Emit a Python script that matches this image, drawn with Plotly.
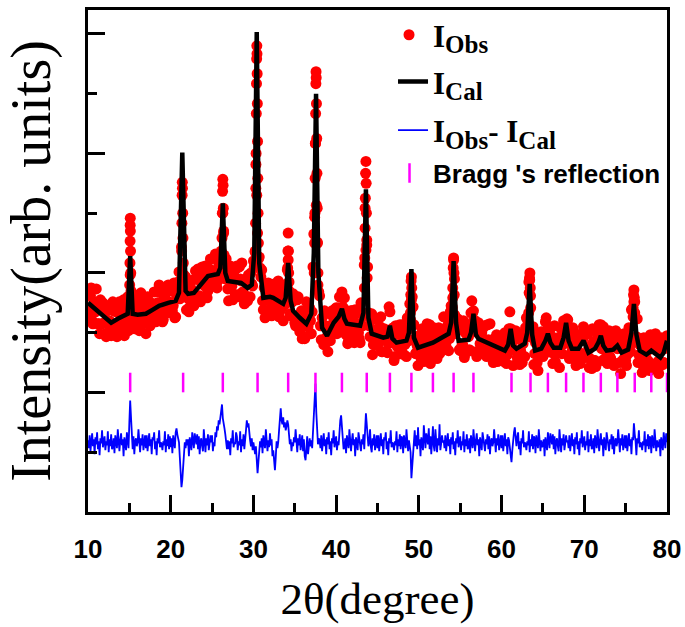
import numpy as np
import plotly.graph_objects as go

# ---------------- data ----------------
# y unit: arbitrary intensity, axis range 0..504, major ticks every 120

# observed intensity, background sampling at 10.0, 10.2, ... 80.0 deg (351 points)
obs_bg = [
    222,199,225,189,209, 224,189,179,206,210, 190,176,204,192,177, 211,183,201,177,211,
    193,210,177,203,216, 195,200,219,184,207, 201,182,220,192,209, 179,216,197,210,191,
    221,191,210,228,200, 191,215,222,200,211, 223,202,230,196,220, 241,223,220,238,236,
    215,201,231,221,207, 242,215,234,211,246, 229,247,215,242,254, 228,233,259,225,250,
    248,249,282,234,244, 212,247,227,238,218, 247,216,234,250,220, 210,232,238,216,229,
    252,261,318,254,245, 243,203,195,224,230, 211,197,227,215,200, 232,202,218,192,228,
    222,253,199,213,219, 190,193,216,181,202, 194,174,211,186,205, 179,246,296,308,228,
    217,173,188,202,170, 161,187,198,179,192, 205,186,216,186,206, 215,178,169,197,202,
    183,170,199,188,174, 210,187,248,263,246, 187,194,158,183,194, 167,171,196,161,184,
    179,160,206,177,184, 152,187,166,178,159, 188,158,176,195,172, 193,216,188,159,167,
    177,157,184,151,173, 189,157,149,178,185, 167,154,185,175,162, 196,168,186,162,201,
    207,253,179,185,189, 162,167,192,159,182, 176,162,212,189,192, 156,190,169,180,159,
    187,156,173,189,159, 150,172,178,155,165, 175,154,180,149,173, 201,166,147,173,178,
    160,148,179,169,156, 195,191,233,178,186, 159,176,142,169,181, 156,164,195,164,181,
    171,149,187,159,175, 145,184,168,190,176, 193,154,168,185,156, 147,170,178,158,173,
    182,156,179,145,167, 184,152,146,177,188, 172,152,177,164,149, 182,154,171,147,182,
    164,176,139,166,179, 152,158,185,161,204, 211,174,194,158,171, 140,175,154,167,148,
    178,147,164,179,149, 139,161,170,150,167, 177,
]

# observed intensity, background sampling at 10.1, 10.3, ... 79.9 deg (350 points)
obs_bg_mid = [
    203,217,192,211,201, 206,189,213,189,207, 179,202,188,208,181, 202,188,176,200,209,
    184,213,200,191,182, 238,187,203,211,193, 189,217,188,199,205, 193,210,187,209,201,
    208,194,221,199,220, 193,218,206,228,201, 222,207,195,218,231, 214,266,237,219,203,
    227,206,224,233,216, 214,244,217,230,237, 227,245,222,244,235, 242,227,254,232,255,
    237,300,247,254,224, 242,227,213,236,244, 218,246,232,221,209, 234,212,230,240,227,
    246,349,280,256,236, 212,225,202,223,214, 219,204,229,205,224, 196,219,206,228,209,
    243,231,197,211,215, 187,213,197,187,174, 198,176,195,206,192, 201,279,370,271,221,
    187,195,168,186,176, 183,172,202,182,204, 179,205,197,221,188, 203,185,172,194,202,
    176,203,189,180,170, 201,197,305,273,200, 176,199,168,178,183, 170,186,161,182,173,
    180,169,201,170,185, 156,179,167,188,162, 182,168,156,183,209, 213,206,174,160,147,
    173,153,171,180,163, 159,188,160,171,177, 166,182,159,181,173, 180,166,193,174,207,
    215,234,187,194,163, 183,168,155,179,187, 163,200,200,181,161, 183,160,177,184,165,
    161,188,158,168,173, 160,175,151,171,161, 167,151,178,158,184, 167,181,163,182,155,
    176,162,150,174,185, 176,231,217,175,148, 170,150,168,177,160, 158,191,168,176,176,
    160,175,151,172,163, 170,159,192,179,194, 157,175,161,182,155, 175,161,149,176,186,
    155,179,163,154,144, 171,152,172,185,171, 164,186,154,163,168, 156,173,150,172,165,
    169,150,175,153,174, 147,173,167,203,196, 211,176,150,168,174, 147,174,160,152,142,
    169,147,164,170,151, 146,175,148,164,175,
]

# observed points on the peak flanks
obs_pk_x = [
    15.04,15.07,15.09,15.10,15.11,15.12,15.14,15.17,15.20,
    21.28,21.32,21.35,21.38,21.40,21.42,21.45,21.48,21.52,21.56,
    26.10,26.15,26.20,26.24,26.27,26.30,26.33,26.36,26.40,26.45,
    30.22,30.26,30.29,30.32,30.35,30.37,30.39,30.41,30.43,30.45,30.47,30.50,30.53,30.56,30.60,30.65,
    34.10,34.14,34.17,34.20,34.23,34.26,34.30,
    37.35,37.40,37.43,37.46,37.49,37.52,37.55,37.57,37.59,37.62,37.65,37.68,37.71,37.75,37.80,
    43.42,43.46,43.50,43.53,43.56,43.60,43.63,43.66,43.70,43.75,
    48.98,49.02,49.06,49.10,49.14,49.18,
    54.05,54.10,54.15,54.20,54.24,54.28,54.33,
    56.50,56.60,56.68,
    61.10,
    63.28,63.33,63.38,63.42,63.47,63.52,
    65.60,
    67.75,67.80,
    72.00,
    75.90,75.95,76.00,76.05,76.10,
]
obs_pk_y = [
    228,250,272,288,295,282,262,240,222,
    240,262,290,318,331,325,300,275,250,232,
    262,255,275,300,322,334,328,305,280,258,
    262,290,325,360,400,430,455,468,460,440,410,372,335,300,270,245,
    228,245,262,280,262,240,222,
    240,270,300,335,370,400,430,442,436,410,375,340,305,270,240,
    225,255,285,315,340,352,330,300,268,235,
    200,218,232,236,225,205,
    205,225,245,255,240,218,198,
    190,202,192,
    184,
    200,220,235,240,225,205,
    184,
    185,193,
    188,
    205,218,223,215,200,
]

# calculated profile (vertices of the black curve)
cal_x = [
    10.0,10.8,11.6,12.8,13.6,14.2,14.8,15.1,15.4,16.0,17.0,17.8,18.6,19.7,20.6,21.0,21.4,21.8,22.1,22.8,
    23.5,24.5,25.7,26.0,26.3,26.6,26.9,28.0,28.5,29.3,29.8,30.1,30.4,30.7,31.2,32.0,32.4,33.0,33.6,33.9,
    34.2,34.5,34.8,35.6,36.4,37.0,37.3,37.57,37.85,38.3,38.9,39.7,40.3,40.7,41.0,41.3,42.9,43.3,43.6,43.9,
    44.3,45.7,46.2,46.5,46.8,47.3,48.5,48.8,49.1,49.4,49.9,51.7,53.6,53.9,54.2,54.5,54.8,56.0,56.3,56.6,
    56.9,57.2,60.4,60.8,61.1,61.4,61.8,62.8,63.1,63.4,63.7,64.05,64.8,65.3,65.6,65.9,66.3,67.1,67.5,67.8,
    68.1,68.5,69.3,69.9,70.5,71.3,71.7,72.0,72.3,72.7,73.5,74.0,74.5,75.3,75.7,76.0,76.3,76.7,77.5,78.1,
    78.5,79.2,79.6,80.0,
]
cal_y = [
    210,204,198,190,194,197,199,257,199,198,199,203,207,210,212,220,361,222,219,220,
    227,237,239,245,310,240,232,230,230,225,228,260,482,250,215,216,215,212,209,215,
    250,212,202,195,189,199,260,420,240,185,177,190,196,204,194,189,187,200,324,195,
    179,175,176,187,174,170,172,180,244,175,165,170,179,190,252,190,172,173,180,199,
    178,174,162,168,184,167,164,169,180,229,178,162,164,172,179,170,165,165,175,190,
    172,164,164,172,160,164,170,177,167,162,163,167,160,163,180,209,178,162,158,162,
    159,155,160,172,
]

# difference curve I_obs - I_cal (offset), sampling 10.0, 10.1, ... 80.0 deg (701 points)
diff_y = [
    72,64,77,61,70,79,66,73,58,75,
    68,80,63,71,57,74,69,82,65,70,
    76,62,71,67,81,60,73,66,78,63,
    65,74,59,77,70,64,83,68,61,72,
    79,67,73,56,75,69,62,80,71,64,
    90,112,95,74,63,76,58,71,74,66,
    70,83,65,60,74,67,78,62,69,77,
    64,77,61,70,79,66,73,58,75,72,
    80,63,71,57,74,69,82,65,70,68,
    62,71,67,81,60,73,66,78,63,76,
    65,74,59,77,70,64,80,84,78,72,
    70,55,38,25,32,48,62,70,64,73,
    67,73,56,75,69,62,80,71,64,79,
    73,68,78,63,76,58,71,74,66,61,
    83,65,60,74,67,78,62,69,77,70,
    77,61,70,66,80,75,86,82,92,88,
    96,102,108,94,90,84,78,70,63,72,
    63,71,57,74,69,82,65,70,68,80,
    76,62,71,67,81,60,73,66,78,63,
    70,82,92,85,89,78,72,66,74,62,
    70,64,58,66,52,39,50,63,71,65,
    74,59,77,70,64,83,68,61,72,65,
    79,67,73,56,62,48,42,55,71,64,
    70,82,96,104,92,88,95,85,90,82,
    86,92,88,76,68,73,61,70,66,75,
    70,83,65,60,74,67,78,62,69,77,
    61,73,56,52,63,76,58,71,74,66,
    72,64,78,90,110,129,100,82,68,74,
    72,64,77,61,70,79,66,73,58,75,
    68,80,63,71,57,74,69,82,65,70,
    76,62,71,67,84,92,97,85,78,63,
    65,74,59,77,70,64,83,68,61,72,
    79,67,73,56,75,69,62,80,71,64,
    61,73,68,78,63,82,99,88,74,66,
    70,83,65,60,74,67,78,62,69,77,
    64,77,61,70,79,66,73,58,75,72,
    80,63,71,57,74,69,82,65,70,68,
    62,71,67,81,60,73,66,78,63,76,
    74,59,77,70,64,83,68,61,72,65,
    60,34,45,58,70,82,66,77,63,85,
    67,73,56,75,69,62,87,71,64,79,
    73,68,84,63,76,58,71,86,66,61,
    83,65,60,74,67,88,62,69,77,70,
    72,64,77,61,70,79,66,73,58,75,
    68,80,63,71,57,74,69,82,65,70,
    76,62,71,67,81,60,73,66,78,63,
    65,74,59,77,70,64,83,68,61,72,
    79,67,73,56,75,69,62,80,71,64,
    61,73,68,78,63,76,58,71,74,66,
    70,83,65,60,74,67,78,62,69,77,
    64,77,61,70,79,66,73,58,75,72,
    66,58,50,62,74,80,85,72,66,75,
    80,63,71,57,74,69,82,65,70,68,
    62,71,67,81,60,73,66,78,63,76,
    74,59,77,70,64,83,68,61,72,65,
    67,73,56,75,69,62,80,71,64,79,
    73,68,78,63,76,58,71,74,66,61,
    83,65,60,74,67,78,62,69,77,70,
    72,64,77,61,70,79,66,73,58,75,
    68,80,63,71,57,74,69,82,65,70,
    76,62,71,67,81,60,73,66,78,63,
    65,74,59,77,70,64,83,68,61,72,
    79,67,73,56,75,69,62,80,71,64,
    61,73,68,78,63,76,58,71,74,66,
    70,83,65,60,74,67,78,62,69,77,
    64,77,61,70,79,66,73,58,75,72,
    89,78,71,57,74,69,82,65,70,68,
    62,71,67,81,60,73,66,78,63,76,
    74,59,77,70,64,83,68,61,72,65,
    67,73,56,75,69,62,80,71,64,79,
    70,
]

# Bragg reflection positions (deg) and the level of their tick row
bragg_x = [15.1, 21.5, 26.3, 30.5, 34.2, 37.5, 40.7, 43.7, 46.5, 49.1, 51.7, 54.2,
           56.6, 61.2, 63.5, 65.6, 67.8, 69.9, 72.0, 74.0, 76.1, 78.1, 80.0]
bragg_level = 130

x_ticks = [10, 20, 30, 40, 50, 60, 70, 80]

# ---------------- figure ----------------
obs_x = np.concatenate([np.linspace(10, 80, len(obs_bg)),
                        np.linspace(10.1, 79.9, len(obs_bg_mid)),
                        obs_pk_x])
obs_y = np.concatenate([obs_bg, obs_bg_mid, obs_pk_y])
diff_x = np.linspace(10, 80, len(diff_y))

SUB = "<sub><span style='font-size:25px'>{}</span></sub>"

fig = go.Figure()
fig.add_trace(go.Scatter(
    x=obs_x, y=obs_y, mode="markers", name="<b>I" + SUB.format("Obs") + "</b>",
    marker=dict(color="#FF0000", size=11, line=dict(width=0)), legend="legend"))
fig.add_trace(go.Scatter(
    x=cal_x, y=cal_y, mode="lines", name="<b>I" + SUB.format("Cal") + "</b>",
    line=dict(color="black", width=4.5), legend="legend2"))
fig.add_trace(go.Scatter(
    x=diff_x, y=diff_y, mode="lines",
    name="<b>I" + SUB.format("Obs") + "- I" + SUB.format("Cal") + "</b>",
    line=dict(color="#0000FF", width=1.8), legend="legend3"))
fig.add_trace(go.Scatter(
    x=bragg_x, y=[bragg_level] * len(bragg_x), mode="markers",
    name="<b>Bragg 's reflection</b>",
    marker=dict(symbol="line-ns", size=14, color="#FF00FF",
                line=dict(color="#FF00FF", width=2.5)),
    legend="legend4"))

serif = "Liberation Serif, Times New Roman, serif"
sans = "Liberation Sans, Arial, sans-serif"

common_leg = dict(xanchor="left", yanchor="middle", bgcolor="rgba(0,0,0,0)",
                  borderwidth=0, xref="paper", yref="paper")
fig.update_layout(
    width=685, height=627,
    margin=dict(l=88, r=18, t=8, b=115),
    plot_bgcolor="white", paper_bgcolor="white",
    showlegend=True,
    legend=dict(x=0.5130, y=0.950, itemwidth=38,
                font=dict(family=serif, size=31, color="black"), **common_leg),
    legend2=dict(x=0.5268, y=0.857, itemwidth=30,
                 font=dict(family=serif, size=31, color="black"), **common_leg),
    legend3=dict(x=0.5268, y=0.760, itemwidth=30,
                 font=dict(family=serif, size=31, color="black"), **common_leg),
    legend4=dict(x=0.5147, y=0.675, itemwidth=37,
                 font=dict(family=sans, size=26, color="black", weight="bold"), **common_leg),
)
fig.update_xaxes(
    range=[10, 80], tickvals=x_ticks, ticktext=[str(v) for v in x_ticks],
    automargin=False,
    showline=True, linecolor="black", linewidth=3, mirror=True,
    ticks="inside", ticklen=17, tickwidth=3, tickcolor="black",
    minor=dict(dtick=5, tick0=10, ticks="inside", ticklen=9, tickwidth=2.5, tickcolor="black"),
    showgrid=False, zeroline=False,
    tickfont=dict(family=sans, size=26, color="black", weight="bold"),
    ticklabelstandoff=12,
    title=dict(text="2θ(degree)", font=dict(family=serif, size=45, color="black"), standoff=20),
)
fig.update_yaxes(
    range=[0, 504], dtick=120, tick0=0, showticklabels=False,
    automargin=False,
    showline=True, linecolor="black", linewidth=3, mirror=True,
    ticks="inside", ticklen=17, tickwidth=3, tickcolor="black",
    minor=dict(dtick=60, tick0=0, ticks="inside", ticklen=9, tickwidth=2.5, tickcolor="black"),
    showgrid=False, zeroline=False,
    title=dict(text="Intensity(arb. units)", font=dict(family=serif, size=56, color="black"), standoff=28),
)

fig.write_html("out.html", config={"displayModeBar": False},
               post_script="document.body.style.margin='0px';")
